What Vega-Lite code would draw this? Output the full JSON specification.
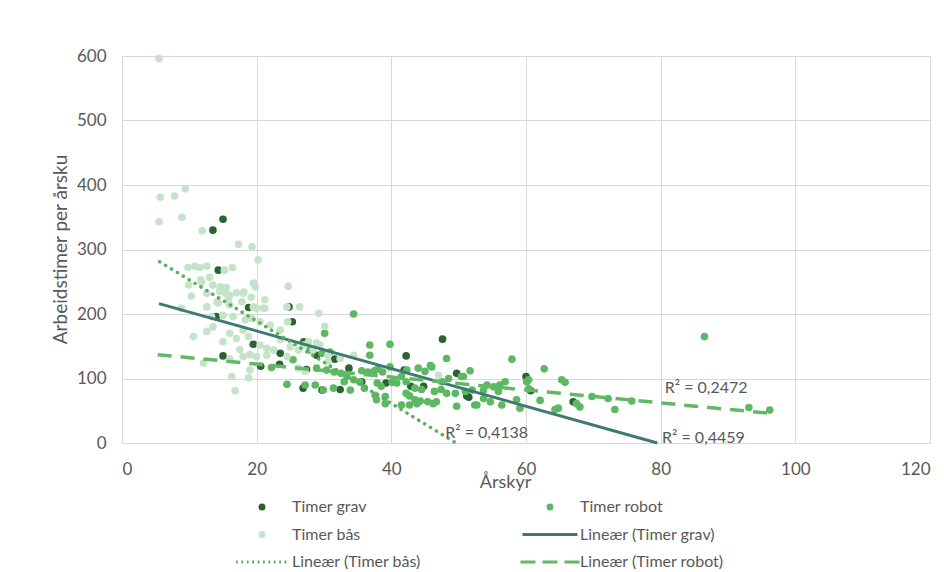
{
  "$schema": "https://vega.github.io/schema/vega-lite/v6.json",
  "width": 808,
  "height": 387,
  "autosize": {"type": "none"},
  "padding": {"left": 122, "top": 56, "right": 14, "bottom": 129},
  "background": "white",
  "config": {
    "view": {"stroke": null},
    "font": "Lato",
    "axis": {
      "grid": true,
      "gridColor": "#d9d9d9",
      "gridWidth": 1,
      "domain": false,
      "ticks": false,
      "tickSize": 0,
      "labelFont": "Lato",
      "labelFontSize": 17,
      "labelColor": "#595959",
      "titleFont": "Lato",
      "titleFontWeight": "normal",
      "titleColor": "#595959"
    }
  },
  "datasets": {
    "punkter": [
      {"serie": "Timer grav", "x": 13.5, "y": 330}, {"serie": "Timer grav", "x": 15, "y": 347},
      {"serie": "Timer grav", "x": 14.3, "y": 268}, {"serie": "Timer grav", "x": 18.8, "y": 210},
      {"serie": "Timer grav", "x": 24.8, "y": 211}, {"serie": "Timer grav", "x": 14, "y": 196},
      {"serie": "Timer grav", "x": 25.3, "y": 188}, {"serie": "Timer grav", "x": 19.5, "y": 153},
      {"serie": "Timer grav", "x": 27, "y": 157}, {"serie": "Timer grav", "x": 28.9, "y": 136},
      {"serie": "Timer grav", "x": 31.6, "y": 130}, {"serie": "Timer grav", "x": 15, "y": 135},
      {"serie": "Timer grav", "x": 20.6, "y": 119}, {"serie": "Timer grav", "x": 23.4, "y": 122},
      {"serie": "Timer grav", "x": 27.4, "y": 114}, {"serie": "Timer grav", "x": 33.7, "y": 116},
      {"serie": "Timer grav", "x": 26.9, "y": 85}, {"serie": "Timer grav", "x": 29.7, "y": 82},
      {"serie": "Timer grav", "x": 32.4, "y": 83}, {"serie": "Timer grav", "x": 42.2, "y": 135},
      {"serie": "Timer grav", "x": 47.6, "y": 161}, {"serie": "Timer grav", "x": 35.6, "y": 95},
      {"serie": "Timer grav", "x": 39.2, "y": 93}, {"serie": "Timer grav", "x": 42.9, "y": 88},
      {"serie": "Timer grav", "x": 44.8, "y": 88}, {"serie": "Timer grav", "x": 41.9, "y": 113},
      {"serie": "Timer grav", "x": 49.7, "y": 108}, {"serie": "Timer grav", "x": 51.5, "y": 71},
      {"serie": "Timer grav", "x": 51.2, "y": 73}, {"serie": "Timer grav", "x": 60, "y": 103},
      {"serie": "Timer grav", "x": 60.7, "y": 81}, {"serie": "Timer grav", "x": 67, "y": 64},
      {"serie": "Timer grav", "x": 23.5, "y": 139},

      {"serie": "Timer robot", "x": 34.4, "y": 200}, {"serie": "Timer robot", "x": 30.1, "y": 170},
      {"serie": "Timer robot", "x": 36.8, "y": 152}, {"serie": "Timer robot", "x": 39.8, "y": 153},
      {"serie": "Timer robot", "x": 36.8, "y": 136}, {"serie": "Timer robot", "x": 48.2, "y": 131},
      {"serie": "Timer robot", "x": 57.9, "y": 130}, {"serie": "Timer robot", "x": 29.7, "y": 139},
      {"serie": "Timer robot", "x": 30.9, "y": 141}, {"serie": "Timer robot", "x": 27.9, "y": 144},
      {"serie": "Timer robot", "x": 28.9, "y": 116}, {"serie": "Timer robot", "x": 30.4, "y": 113},
      {"serie": "Timer robot", "x": 31.5, "y": 110}, {"serie": "Timer robot", "x": 32.5, "y": 108},
      {"serie": "Timer robot", "x": 35.6, "y": 112}, {"serie": "Timer robot", "x": 36.5, "y": 110},
      {"serie": "Timer robot", "x": 37.5, "y": 112}, {"serie": "Timer robot", "x": 38, "y": 115},
      {"serie": "Timer robot", "x": 38.7, "y": 110}, {"serie": "Timer robot", "x": 39.8, "y": 118},
      {"serie": "Timer robot", "x": 42.3, "y": 113}, {"serie": "Timer robot", "x": 41.5, "y": 103},
      {"serie": "Timer robot", "x": 44, "y": 116}, {"serie": "Timer robot", "x": 45, "y": 111},
      {"serie": "Timer robot", "x": 45.8, "y": 120}, {"serie": "Timer robot", "x": 46, "y": 118},
      {"serie": "Timer robot", "x": 50.7, "y": 103}, {"serie": "Timer robot", "x": 51.7, "y": 112},
      {"serie": "Timer robot", "x": 50.4, "y": 103}, {"serie": "Timer robot", "x": 22.2, "y": 117},
      {"serie": "Timer robot", "x": 25.4, "y": 129}, {"serie": "Timer robot", "x": 33.4, "y": 103},
      {"serie": "Timer robot", "x": 34.4, "y": 98}, {"serie": "Timer robot", "x": 24.5, "y": 91},
      {"serie": "Timer robot", "x": 27.2, "y": 90}, {"serie": "Timer robot", "x": 28.7, "y": 90},
      {"serie": "Timer robot", "x": 29.9, "y": 82}, {"serie": "Timer robot", "x": 31.4, "y": 85},
      {"serie": "Timer robot", "x": 33.9, "y": 82}, {"serie": "Timer robot", "x": 35.3, "y": 95},
      {"serie": "Timer robot", "x": 37.9, "y": 93}, {"serie": "Timer robot", "x": 40.1, "y": 94},
      {"serie": "Timer robot", "x": 40.8, "y": 93}, {"serie": "Timer robot", "x": 42.2, "y": 95},
      {"serie": "Timer robot", "x": 43.5, "y": 85}, {"serie": "Timer robot", "x": 44.5, "y": 83},
      {"serie": "Timer robot", "x": 46.4, "y": 80}, {"serie": "Timer robot", "x": 47.4, "y": 83},
      {"serie": "Timer robot", "x": 48.2, "y": 77}, {"serie": "Timer robot", "x": 49.5, "y": 77},
      {"serie": "Timer robot", "x": 51, "y": 80}, {"serie": "Timer robot", "x": 52, "y": 82},
      {"serie": "Timer robot", "x": 37.6, "y": 74}, {"serie": "Timer robot", "x": 39.1, "y": 72},
      {"serie": "Timer robot", "x": 37.8, "y": 67}, {"serie": "Timer robot", "x": 39.1, "y": 61},
      {"serie": "Timer robot", "x": 42.2, "y": 77}, {"serie": "Timer robot", "x": 42.7, "y": 73},
      {"serie": "Timer robot", "x": 43.5, "y": 67}, {"serie": "Timer robot", "x": 43.8, "y": 61},
      {"serie": "Timer robot", "x": 44.3, "y": 65}, {"serie": "Timer robot", "x": 41.5, "y": 59},
      {"serie": "Timer robot", "x": 42.7, "y": 59}, {"serie": "Timer robot", "x": 45.4, "y": 64},
      {"serie": "Timer robot", "x": 46.2, "y": 61}, {"serie": "Timer robot", "x": 46.7, "y": 64},
      {"serie": "Timer robot", "x": 49.7, "y": 57}, {"serie": "Timer robot", "x": 52.7, "y": 59},
      {"serie": "Timer robot", "x": 52.4, "y": 59}, {"serie": "Timer robot", "x": 53.7, "y": 82},
      {"serie": "Timer robot", "x": 54.2, "y": 90}, {"serie": "Timer robot", "x": 55.2, "y": 87},
      {"serie": "Timer robot", "x": 56.1, "y": 90}, {"serie": "Timer robot", "x": 56.9, "y": 95},
      {"serie": "Timer robot", "x": 53.7, "y": 69}, {"serie": "Timer robot", "x": 54.7, "y": 64},
      {"serie": "Timer robot", "x": 55.9, "y": 80}, {"serie": "Timer robot", "x": 56.4, "y": 59},
      {"serie": "Timer robot", "x": 58.6, "y": 67}, {"serie": "Timer robot", "x": 59.1, "y": 54},
      {"serie": "Timer robot", "x": 60.1, "y": 95}, {"serie": "Timer robot", "x": 60.4, "y": 84},
      {"serie": "Timer robot", "x": 60.4, "y": 98}, {"serie": "Timer robot", "x": 62.7, "y": 115},
      {"serie": "Timer robot", "x": 65.3, "y": 98}, {"serie": "Timer robot", "x": 65.8, "y": 94},
      {"serie": "Timer robot", "x": 62.1, "y": 66}, {"serie": "Timer robot", "x": 64.3, "y": 52},
      {"serie": "Timer robot", "x": 64.8, "y": 54}, {"serie": "Timer robot", "x": 67.5, "y": 61},
      {"serie": "Timer robot", "x": 68, "y": 56}, {"serie": "Timer robot", "x": 69.8, "y": 72},
      {"serie": "Timer robot", "x": 72.2, "y": 69}, {"serie": "Timer robot", "x": 73.2, "y": 52},
      {"serie": "Timer robot", "x": 75.7, "y": 65}, {"serie": "Timer robot", "x": 86.5, "y": 165},
      {"serie": "Timer robot", "x": 93.1, "y": 55}, {"serie": "Timer robot", "x": 96.2, "y": 51},
      {"serie": "Timer robot", "x": 48.5, "y": 100}, {"serie": "Timer robot", "x": 47.5, "y": 95},
      {"serie": "Timer robot", "x": 36, "y": 85}, {"serie": "Timer robot", "x": 33, "y": 95},
      {"serie": "Timer robot", "x": 38.5, "y": 88},

      {"serie": "Timer bås", "x": 5.5, "y": 596}, {"serie": "Timer bås", "x": 5.7, "y": 381},
      {"serie": "Timer bås", "x": 7.8, "y": 383}, {"serie": "Timer bås", "x": 9.4, "y": 394},
      {"serie": "Timer bås", "x": 5.5, "y": 343}, {"serie": "Timer bås", "x": 8.9, "y": 350},
      {"serie": "Timer bås", "x": 11.9, "y": 329}, {"serie": "Timer bås", "x": 17.3, "y": 308},
      {"serie": "Timer bås", "x": 19.3, "y": 304}, {"serie": "Timer bås", "x": 20.2, "y": 284},
      {"serie": "Timer bås", "x": 15.2, "y": 268}, {"serie": "Timer bås", "x": 16.4, "y": 272},
      {"serie": "Timer bås", "x": 9.8, "y": 272}, {"serie": "Timer bås", "x": 10.8, "y": 274},
      {"serie": "Timer bås", "x": 11.6, "y": 272}, {"serie": "Timer bås", "x": 12.6, "y": 274},
      {"serie": "Timer bås", "x": 24.7, "y": 243}, {"serie": "Timer bås", "x": 19.5, "y": 248},
      {"serie": "Timer bås", "x": 19.8, "y": 242}, {"serie": "Timer bås", "x": 11.7, "y": 253},
      {"serie": "Timer bås", "x": 13, "y": 257}, {"serie": "Timer bås", "x": 9.9, "y": 245},
      {"serie": "Timer bås", "x": 11.8, "y": 249}, {"serie": "Timer bås", "x": 13.5, "y": 245},
      {"serie": "Timer bås", "x": 14.6, "y": 242}, {"serie": "Timer bås", "x": 15.5, "y": 241},
      {"serie": "Timer bås", "x": 10.3, "y": 228}, {"serie": "Timer bås", "x": 15.4, "y": 232},
      {"serie": "Timer bås", "x": 14.1, "y": 219}, {"serie": "Timer bås", "x": 15.8, "y": 222},
      {"serie": "Timer bås", "x": 17, "y": 233}, {"serie": "Timer bås", "x": 18.1, "y": 234},
      {"serie": "Timer bås", "x": 19.2, "y": 226}, {"serie": "Timer bås", "x": 21.2, "y": 222},
      {"serie": "Timer bås", "x": 21, "y": 209}, {"serie": "Timer bås", "x": 20, "y": 209},
      {"serie": "Timer bås", "x": 19.5, "y": 211}, {"serie": "Timer bås", "x": 18, "y": 232},
      {"serie": "Timer bås", "x": 16, "y": 229}, {"serie": "Timer bås", "x": 14.5, "y": 235},
      {"serie": "Timer bås", "x": 12.6, "y": 211}, {"serie": "Timer bås", "x": 14.3, "y": 217},
      {"serie": "Timer bås", "x": 16, "y": 214}, {"serie": "Timer bås", "x": 17.8, "y": 219},
      {"serie": "Timer bås", "x": 21.2, "y": 209}, {"serie": "Timer bås", "x": 24.5, "y": 211},
      {"serie": "Timer bås", "x": 26.4, "y": 211}, {"serie": "Timer bås", "x": 29.2, "y": 201},
      {"serie": "Timer bås", "x": 8.8, "y": 209}, {"serie": "Timer bås", "x": 13.3, "y": 196},
      {"serie": "Timer bås", "x": 15, "y": 198}, {"serie": "Timer bås", "x": 16.5, "y": 196},
      {"serie": "Timer bås", "x": 18.3, "y": 191}, {"serie": "Timer bås", "x": 19.3, "y": 193},
      {"serie": "Timer bås", "x": 20.5, "y": 188}, {"serie": "Timer bås", "x": 22, "y": 183},
      {"serie": "Timer bås", "x": 23.5, "y": 175}, {"serie": "Timer bås", "x": 30.1, "y": 181},
      {"serie": "Timer bås", "x": 24.6, "y": 188}, {"serie": "Timer bås", "x": 10.6, "y": 165},
      {"serie": "Timer bås", "x": 12.6, "y": 173}, {"serie": "Timer bås", "x": 15, "y": 157},
      {"serie": "Timer bås", "x": 16, "y": 170}, {"serie": "Timer bås", "x": 17, "y": 162},
      {"serie": "Timer bås", "x": 18, "y": 175}, {"serie": "Timer bås", "x": 18.8, "y": 165},
      {"serie": "Timer bås", "x": 20.5, "y": 152}, {"serie": "Timer bås", "x": 21.5, "y": 147},
      {"serie": "Timer bås", "x": 22.5, "y": 144}, {"serie": "Timer bås", "x": 23.5, "y": 160},
      {"serie": "Timer bås", "x": 25, "y": 149}, {"serie": "Timer bås", "x": 26.2, "y": 144},
      {"serie": "Timer bås", "x": 26.9, "y": 152}, {"serie": "Timer bås", "x": 28.4, "y": 144},
      {"serie": "Timer bås", "x": 29.4, "y": 152}, {"serie": "Timer bås", "x": 30.6, "y": 136},
      {"serie": "Timer bås", "x": 27.7, "y": 157}, {"serie": "Timer bås", "x": 28.9, "y": 155},
      {"serie": "Timer bås", "x": 12.1, "y": 124}, {"serie": "Timer bås", "x": 16, "y": 130},
      {"serie": "Timer bås", "x": 18, "y": 134}, {"serie": "Timer bås", "x": 19, "y": 137},
      {"serie": "Timer bås", "x": 20, "y": 134}, {"serie": "Timer bås", "x": 21.5, "y": 136},
      {"serie": "Timer bås", "x": 24.5, "y": 134}, {"serie": "Timer bås", "x": 26.2, "y": 116},
      {"serie": "Timer bås", "x": 27.2, "y": 111}, {"serie": "Timer bås", "x": 30.6, "y": 126},
      {"serie": "Timer bås", "x": 32.4, "y": 131}, {"serie": "Timer bås", "x": 34.4, "y": 136},
      {"serie": "Timer bås", "x": 19, "y": 113}, {"serie": "Timer bås", "x": 16.3, "y": 103},
      {"serie": "Timer bås", "x": 18.8, "y": 101}, {"serie": "Timer bås", "x": 16.8, "y": 81},
      {"serie": "Timer bås", "x": 47, "y": 105}, {"serie": "Timer bås", "x": 12.6, "y": 232},
      {"serie": "Timer bås", "x": 13.5, "y": 180}, {"serie": "Timer bås", "x": 17.5, "y": 145}
    ],
    "trend": [
      {"serie": "Lineær (Timer grav)", "x": 5.5, "y": 216},
      {"serie": "Lineær (Timer grav)", "x": 79.5, "y": 0},
      {"serie": "Lineær (Timer bås)", "x": 5.6, "y": 281},
      {"serie": "Lineær (Timer bås)", "x": 49.6, "y": 0},
      {"serie": "Lineær (Timer robot)", "x": 5.3, "y": 137},
      {"serie": "Lineær (Timer robot)", "x": 96.2, "y": 46}
    ],
    "etiketter": [
      {"x": 48, "y": 15, "tekst": "R² = 0,4138"},
      {"x": 80.2, "y": 8, "tekst": "R² = 0,4459"},
      {"x": 80.6, "y": 85, "tekst": "R² = 0,2472"}
    ]
  },
  "encoding": {
    "x": {
      "field": "x",
      "type": "quantitative",
      "scale": {"domain": [0, 120], "nice": false},
      "axis": {
        "values": [0, 20, 40, 60, 80, 100, 120],
        "title": "Årskyr",
        "titleFontSize": 18,
        "labelBaseline": "alphabetic",
        "labelPadding": 31,
        "titleX": 383,
        "titleY": 44,
        "titleBaseline": "alphabetic",
        "titleAlign": "center"
      }
    },
    "y": {
      "field": "y",
      "type": "quantitative",
      "scale": {"domain": [0, 600], "nice": false},
      "axis": {
        "values": [0, 100, 200, 300, 400, 500, 600],
        "title": "Arbeidstimer per årsku",
        "titleFontSize": 19,
        "labelPadding": 16,
        "titleX": -62,
        "titleY": 193,
        "titleAlign": "center",
        "titleBaseline": "middle",
        "titleAngle": -90
      }
    }
  },
  "layer": [
    {
      "data": {"name": "punkter"},
      "mark": {"type": "point", "filled": true, "size": 58, "opacity": 1},
      "encoding": {
        "shape": {
          "field": "serie",
          "type": "nominal",
          "scale": {
            "domain": ["Timer grav", "Timer robot", "Timer bås", "Lineær (Timer grav)", "Lineær (Timer bås)", "Lineær (Timer robot)"],
            "range": [
              "circle",
              "circle",
              "circle",
              "M-13.75,0H13.75",
              "M-13,0h0.9m1.8,0h0.9m1.8,0h0.9m1.8,0h0.9m1.8,0h0.9m1.8,0h0.9m1.8,0h0.9m1.8,0h0.9m1.8,0h0.9m1.8,0h0.9",
              "M-14.75,0h7.5m3.5,0h7.5m3.5,0h7.5"
            ]
          }
        },
        "color": {
          "field": "serie",
          "type": "nominal",
          "scale": {
            "domain": ["Timer grav", "Timer robot", "Timer bås", "Lineær (Timer grav)", "Lineær (Timer bås)", "Lineær (Timer robot)"],
            "range": ["#2a6331", "#5db863", "#c5e3c7", "#3e7a72", "#5aae60", "#62b866"]
          },
          "legend": {
            "title": null,
            "orient": "none",
            "legendX": 107,
            "legendY": 443,
            "direction": "horizontal",
            "columns": 2,
            "padding": 0,
            "symbolSize": 16,
            "symbolStrokeWidth": 3,
            "symbolOffset": 25,
            "labelOffset": 22,
            "columnPadding": 92,
            "rowPadding": 11.5,
            "labelFont": "Lato",
            "labelFontSize": 16,
            "labelColor": "#595959",
            "labelLimit": 300
          }
        }
      }
    },
    {
      "data": {"name": "trend"},
      "transform": [{"filter": "datum.serie === 'Lineær (Timer grav)'"}],
      "mark": {"type": "line", "strokeWidth": 3},
      "encoding": {"color": {"field": "serie", "type": "nominal"}}
    },
    {
      "data": {"name": "trend"},
      "transform": [{"filter": "datum.serie === 'Lineær (Timer bås)'"}],
      "mark": {"type": "line", "strokeWidth": 3.5, "strokeDash": [0.1, 6.8], "strokeCap": "round"},
      "encoding": {"color": {"field": "serie", "type": "nominal"}}
    },
    {
      "data": {"name": "trend"},
      "transform": [{"filter": "datum.serie === 'Lineær (Timer robot)'"}],
      "mark": {"type": "line", "strokeWidth": 3.5, "strokeDash": [14, 9]},
      "encoding": {"color": {"field": "serie", "type": "nominal"}}
    },
    {
      "data": {"name": "etiketter"},
      "mark": {"type": "text", "align": "left", "baseline": "middle", "fontSize": 16, "color": "#595959", "font": "Lato"},
      "encoding": {"text": {"field": "tekst"}}
    }
  ]
}
